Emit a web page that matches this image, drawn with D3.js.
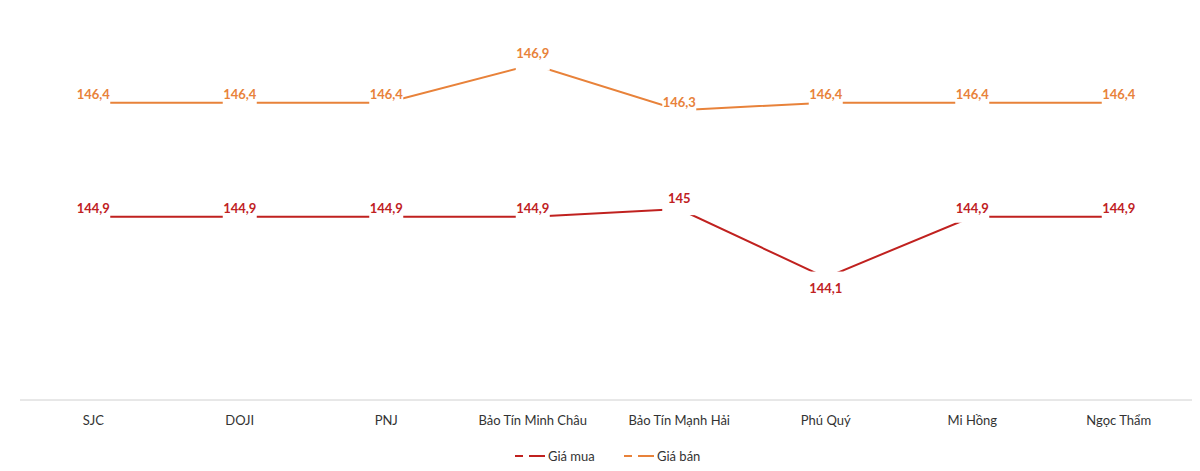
<!DOCTYPE html><html><head><meta charset="utf-8">
<script src="https://cdn.jsdelivr.net/npm/d3@7/dist/d3.min.js"></script>
<style>body{margin:0;background:#fff}</style></head><body><svg id="c" width="1200" height="471"></svg>
<script>
const categories=["SJC","DOJI","PNJ","Bảo Tín Minh Châu","Bảo Tín Mạnh Hải","Phú Quý","Mi Hồng","Ngọc Thẩm"];
const buy=[144.9,144.9,144.9,144.9,145,144.1,144.9,144.9];
const sell=[146.4,146.4,146.4,146.9,146.3,146.4,146.4,146.4];
const buyLabelPos=["c","c","c","c","t","b","c","c"];
const sellLabelPos=["c","c","c","t","c","c","c","c"];
const series=[{name:"Giá mua",vals:buy,pos:buyLabelPos,color:"#C0211F"},{name:"Giá bán",vals:sell,pos:sellLabelPos,color:"#E8823A"}];
const svg=d3.select("#c");
const x=d3.scaleBand().domain(categories).range([20,1192]);
const y=d3.scaleLinear().domain([142.49,147.75]).range([400,0]);
const cx=c=>x(c)+x.bandwidth()/2;
svg.append("line").attr("x1",20).attr("x2",1192).attr("y1",400).attr("y2",400).attr("stroke","#d0d0d0");
svg.selectAll(".cat").data(categories).join("text").attr("x",cx).attr("y",425).attr("text-anchor","middle")
 .attr("font-family","Lato, Arial").attr("font-size",13).attr("fill","#333").text(d=>d);
const fmt=v=>String(v).replace(".",",");
series.forEach(s=>{
 svg.append("path").datum(s.vals).attr("fill","none").attr("stroke",s.color).attr("stroke-width",2)
  .attr("d",d3.line().x((d,i)=>cx(categories[i])).y(d=>y(d)));
 s.vals.forEach((v,i)=>{
  const px=cx(categories[i]),py=y(v),p=s.pos[i];
  const ty=p==="t"?py-11:p==="b"?py+11:py-8;
  svg.append("rect").attr("x",px-17).attr("y",Math.min(ty-10,py-6)).attr("width",34).attr("height",Math.max(ty+10,py+6)-Math.min(ty-10,py-6)).attr("fill","#fff");
  svg.append("text").attr("x",px).attr("y",ty).attr("dy","0.35em").attr("text-anchor","middle")
   .attr("font-family","Lato, Arial").attr("font-weight","bold").attr("font-size",13).attr("fill",s.color).text(fmt(v));
 });
});
const lg=svg.append("g");
series.forEach((s,i)=>{
 const lx=515+i*109;
 lg.append("line").attr("x1",lx).attr("x2",lx+8).attr("y1",456).attr("y2",456).attr("stroke",s.color).attr("stroke-width",2);
 lg.append("line").attr("x1",lx+14).attr("x2",lx+30).attr("y1",456).attr("y2",456).attr("stroke",s.color).attr("stroke-width",2);
 lg.append("text").attr("x",lx+33).attr("y",456).attr("dy","0.35em").attr("font-family","Lato, Arial").attr("font-size",13).attr("fill","#333").text(s.name);
});
</script></body></html>
